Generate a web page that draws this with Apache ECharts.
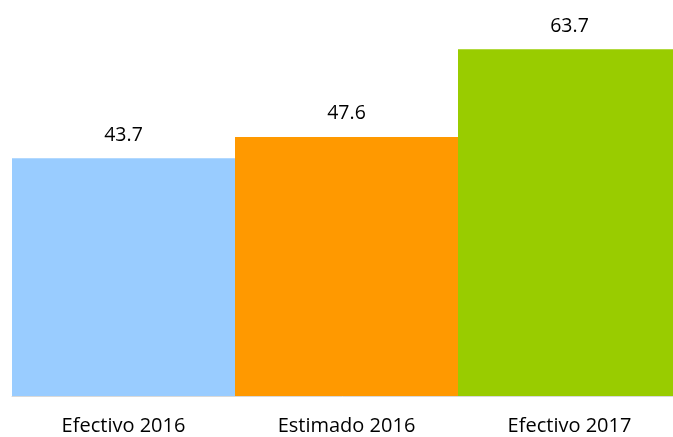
<!DOCTYPE html>
<html>
<head>
<meta charset="utf-8">
<script src="https://cdn.jsdelivr.net/npm/echarts@6/dist/echarts.min.js"></script>
<style>
  html, body { margin: 0; padding: 0; background: #fff; }
  #main { width: 673px; height: 437px; }
</style>
</head>
<body>
<div id="main"></div>
<script>
// datos
var categorias = ['Efectivo 2016', 'Estimado 2016', 'Efectivo 2017'];
var valores = [43.7, 47.6, 63.7];

var colores = ['#99CCFF', '#FF9900', '#99CC00'];

function initChart() {
    var myChart = echarts.init(document.getElementById('main'));

    var option = {
        animation: false,
        grid: {
            left: 12,
            right: -8,
            top: 15,
            bottom: 41,
            outerBoundsMode: 'none'
        },
        xAxis: {
            type: 'category',
            data: categorias,
            axisLine: {
                lineStyle: { color: '#d9d9d9', width: 1 }
            },
            axisTick: {
                length: 8,
                lineStyle: { color: '#d0d0d0' }
            },
            axisLabel: {
                fontSize: 20,
                color: '#000',
                fontFamily: 'Open Sans',
                margin: 20
            }
        },
        yAxis: {
            type: 'value',
            min: 0,
            max: 70,
            show: false,
            splitLine: { show: false }
        },
        series: [{
            type: 'bar',
            barCategoryGap: 0,
            data: valores.map(function (v, i) {
                return { value: v, itemStyle: { color: colores[i] } };
            }),
            label: {
                show: true,
                position: 'top',
                distance: 13,
                fontSize: 19.5,
                color: '#000',
                fontFamily: 'Open Sans'
            }
        }]
    };

    myChart.setOption(option);
}

initChart();
</script>
</body>
</html>
